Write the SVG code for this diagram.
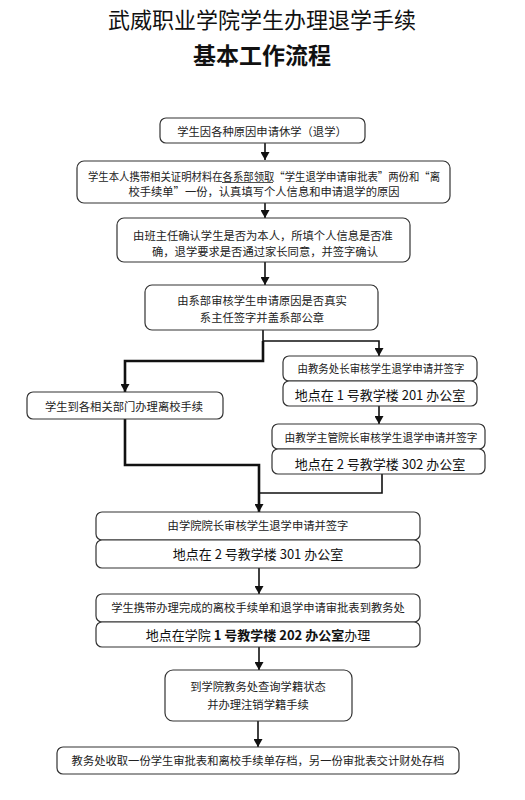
<svg xmlns="http://www.w3.org/2000/svg" width="525" height="800" viewBox="0 0 525 800">
<defs>
<style>
.bx{fill:#fff;stroke:#333;stroke-width:1.2}
.t{font-family:"Noto Sans CJK SC","Noto Sans",sans-serif;font-size:11.3px;fill:#222;text-anchor:middle;dominant-baseline:central}
.p{font-family:"Noto Sans CJK SC","Noto Sans",sans-serif;font-size:13px;fill:#111;text-anchor:middle;dominant-baseline:central}
.ttl{font-family:"Noto Sans CJK SC","Noto Sans",sans-serif;fill:#111;text-anchor:middle}
.c{fill:none;stroke:#111;stroke-width:1.6}
.ck{fill:none;stroke:#111;stroke-width:2.6}
</style>
<marker id="ah" viewBox="0 0 8 9" refX="8" refY="4.5" markerWidth="8" markerHeight="9" markerUnits="userSpaceOnUse" orient="auto">
<path d="M0,0 L8,4.5 L0,9 z" fill="#111"/>
</marker>
</defs>
<rect width="525" height="800" fill="#fff"/>
<g id="title">
<text class="ttl" x="262" y="28" font-size="22">武威职业学院学生办理退学手续</text>
<text class="ttl" x="262" y="64" font-size="23" font-weight="bold">基本工作流程</text>
</g>
<g id="connectors">
<path class="c" d="M265,143 V160" marker-end="url(#ah)"/>
<path class="c" d="M265,203 V218" marker-end="url(#ah)"/>
<path class="c" d="M265,262 V285" marker-end="url(#ah)"/>
<path class="c" d="M263,330 V341 H379 V356" marker-end="url(#ah)"/>
<path class="ck" d="M263,341 V361 H125 V392" marker-end="url(#ah)"/>
<path class="c" d="M379,406 V424" marker-end="url(#ah)"/>
<path class="ck" d="M125,419 V465 H259 V512" marker-end="url(#ah)"/>
<path class="c" d="M382,474 V493 H259"/>
<path class="c" d="M259,568 V594" marker-end="url(#ah)"/>
<path class="c" d="M259,647 V670" marker-end="url(#ah)"/>
<path class="c" d="M258,721 V747" marker-end="url(#ah)"/>
</g>
<g id="n1">
<rect class="bx" x="160" y="118" width="205" height="25" rx="6"/>
<text class="t" x="262" y="131">学生因各种原因申请休学（退学）</text>
</g>
<g id="n2">
<rect class="bx" x="77" y="161" width="373" height="42" rx="7"/>
<text class="t" x="264" y="176" font-size="10.4" textLength="352" lengthAdjust="spacingAndGlyphs">学生本人携带相关证明材料在各系部领取“学生退学申请审批表”两份和“离</text>
<line x1="222" y1="182.5" x2="273" y2="182.5" stroke="#222" stroke-width="0.8"/>
<text class="t" x="264" y="191">校手续单”一份，认真填写个人信息和申请退学的原因</text>
</g>
<g id="n3">
<rect class="bx" x="117" y="218" width="293" height="44" rx="7"/>
<text class="t" x="263" y="235">由班主任确认学生是否为本人，所填个人信息是否准</text>
<text class="t" x="265" y="251">确，退学要求是否通过家长同意，并签字确认</text>
</g>
<g id="n4">
<rect class="bx" x="145" y="285" width="233" height="45" rx="7"/>
<text class="t" x="262" y="300">由系部审核学生申请原因是否真实</text>
<text class="t" x="262" y="317">系主任签字并盖系部公章</text>
</g>
<g id="n5">
<rect class="bx" x="27" y="392" width="196" height="27" rx="6"/>
<text class="t" x="124" y="406">学生到各相关部门办理离校手续</text>
</g>
<g id="n6">
<rect class="bx" x="283" y="356" width="194" height="25" rx="6"/>
<text class="t" x="381" y="368" font-size="10.5" textLength="167" lengthAdjust="spacingAndGlyphs">由教务处长审核学生退学申请并签字</text>
<rect class="bx" x="283" y="381" width="194" height="25" rx="6"/>
<text class="p" x="380" y="394">地点在 1 号教学楼 201 办公室</text>
</g>
<g id="n7">
<rect class="bx" x="272" y="424" width="213" height="25" rx="6"/>
<text class="t" x="381" y="437" font-size="10.7" textLength="193" lengthAdjust="spacingAndGlyphs">由教学主管院长审核学生退学申请并签字</text>
<rect class="bx" x="272" y="449" width="213" height="25" rx="6"/>
<text class="p" x="380" y="463">地点在 2 号教学楼 302 办公室</text>
</g>
<g id="n8">
<rect class="bx" x="96" y="512" width="324" height="28" rx="6"/>
<text class="t" x="258" y="525">由学院院长审核学生退学申请并签字</text>
<rect class="bx" x="96" y="540" width="324" height="28" rx="6"/>
<text class="p" x="258" y="553">地点在 2 号教学楼 301 办公室</text>
</g>
<g id="n9">
<rect class="bx" x="96" y="594" width="324" height="28" rx="6"/>
<text class="t" x="258" y="607">学生携带办理完成的离校手续单和退学申请审批表到教务处</text>
<rect class="bx" x="96" y="622" width="324" height="25" rx="6"/>
<text class="p" x="258" y="634">地点在学院 <tspan font-weight="bold">1 号教学楼 202 办公室</tspan>办理</text>
</g>
<g id="n10">
<rect class="bx" x="165" y="670" width="187" height="51" rx="8"/>
<text class="t" x="258" y="686">到学院教务处查询学籍状态</text>
<text class="t" x="258" y="704">并办理注销学籍手续</text>
</g>
<g id="n11">
<rect class="bx" x="57" y="747" width="402" height="27" rx="6"/>
<text class="t" x="258" y="760">教务处收取一份学生审批表和离校手续单存档，另一份审批表交计财处存档</text>
</g>
</svg>
